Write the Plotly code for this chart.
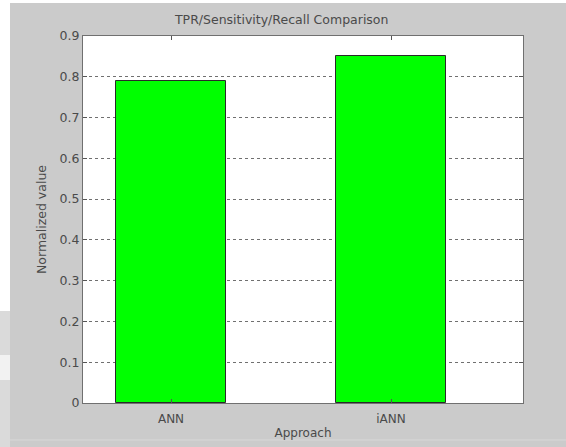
import plotly.graph_objects as go

# Data
approaches = ["ANN", "iANN"]
positions = [1, 2]
tpr_values = [0.79, 0.85]
y_ticks = [0, 0.1, 0.2, 0.3, 0.4, 0.5, 0.6, 0.7, 0.8, 0.9]
y_tick_labels = ["0", "0.1", "0.2", "0.3", "0.4", "0.5", "0.6", "0.7", "0.8", "0.9"]

W, H = 566, 447
L, R, T, B = 83, 43, 36, 44
plot_w = W - L - R
plot_h = H - T - B

def px_x(p):
    return (p - L) / plot_w

def px_y(p):
    return (H - B - p) / plot_h

text_color = "#4a4a4a"
family = "DejaVu Sans, Verdana, sans-serif"
fsize = 12.5
font = dict(family=family, size=fsize, color=text_color)

fig = go.Figure()
fig.add_trace(go.Bar(
    x=positions,
    y=tpr_values,
    width=0.5,
    marker=dict(color="#00ff00", line=dict(color="#2a2a2a", width=1)),
    hoverinfo="skip",
))

# window edges around the figure area
fig.add_shape(type="rect", xref="paper", yref="paper",
              x0=px_x(-2), x1=px_x(10), y0=px_y(H + 2), y1=px_y(-2),
              fillcolor="#ffffff", line=dict(width=0), layer="below")
fig.add_shape(type="rect", xref="paper", yref="paper",
              x0=px_x(-2), x1=px_x(W + 2), y0=px_y(3), y1=px_y(-2),
              fillcolor="#ffffff", line=dict(width=0), layer="below")
fig.add_shape(type="rect", xref="paper", yref="paper",
              x0=px_x(-2), x1=px_x(10), y0=px_y(H + 2), y1=px_y(311),
              fillcolor="#dadada", line=dict(width=0), layer="below")
fig.add_shape(type="rect", xref="paper", yref="paper",
              x0=px_x(-2), x1=px_x(10), y0=px_y(380), y1=px_y(355),
              fillcolor="#f2f2f2", line=dict(width=0), layer="below")
fig.add_shape(type="line", xref="paper", yref="paper",
              x0=px_x(10), x1=px_x(W + 2), y0=px_y(440), y1=px_y(440),
              line=dict(color="#d8d8d8", width=1), layer="below")

fig.update_layout(
    width=W, height=H,
    margin=dict(l=L, r=R, t=T, b=B),
    paper_bgcolor="#cbcbcb",
    plot_bgcolor="#ffffff",
    showlegend=False,
    bargap=0,
    font=font,
    title=dict(text="TPR/Sensitivity/Recall Comparison", x=px_x(302), xanchor="center",
               y=1 - 20 / H, yanchor="middle", font=dict(family=family, size=12.5, color=text_color)),
)

fig.update_xaxes(
    range=[0.6, 2.6],
    tickvals=positions, ticktext=approaches,
    ticks="inside", ticklen=4, tickcolor="#555555",
    showline=True, linecolor="#707070", linewidth=1, mirror="ticks",
    showgrid=False, zeroline=False, automargin=False,
    tickfont=dict(family=family, size=12, color=text_color),
    ticklabelstandoff=5,
    title=dict(text="Approach", standoff=3, font=dict(family=family, size=12, color=text_color)),
)
fig.update_yaxes(
    range=[0, 0.9],
    tickvals=y_ticks, ticktext=y_tick_labels,
    ticks="inside", ticklen=4, tickcolor="#555555",
    showline=True, linecolor="#707070", linewidth=1, mirror="ticks",
    showgrid=True, gridcolor="#707070", gridwidth=1, griddash="dot",
    zeroline=False, automargin=False,
    tickfont=dict(family=family, size=fsize, color=text_color),
    title=dict(text="Normalized value", standoff=10, font=dict(family=family, size=fsize, color=text_color)),
)

fig.write_html("out.html")
